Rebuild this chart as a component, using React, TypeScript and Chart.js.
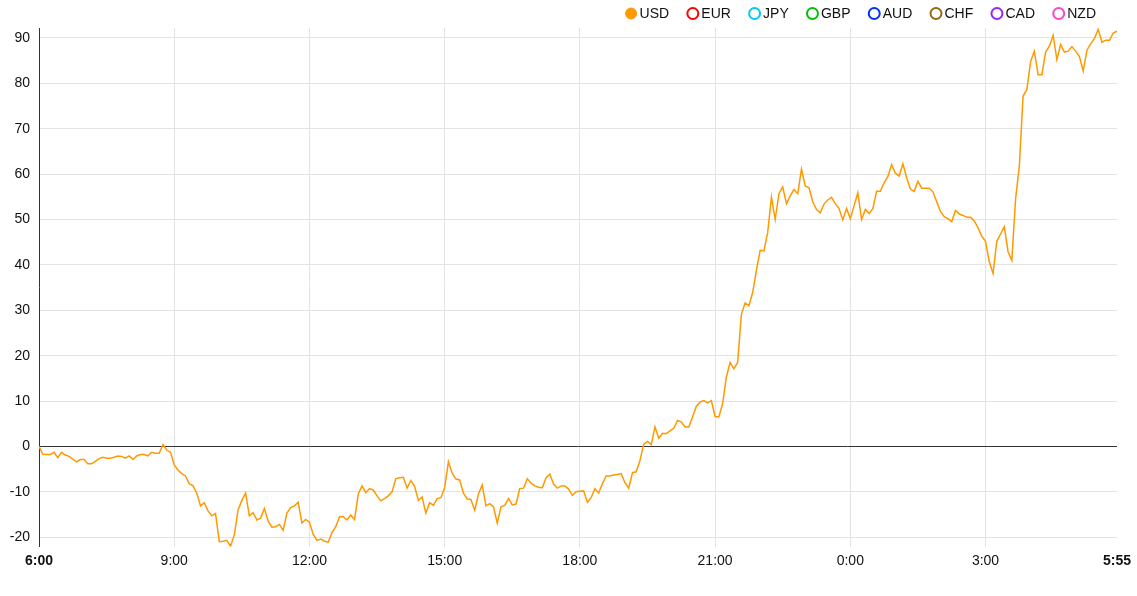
import React, { useEffect, useRef } from "react";
import { Chart, registerables } from "chart.js";

Chart.register(...registerables);

// Currency series names and colours (legend)
const currencies = ["USD", "EUR", "JPY", "GBP", "AUD", "CHF", "CAD", "NZD"];
const currencyColors = ["#ff9900", "#ff0000", "#00c8ff", "#00c000", "#0033ff", "#996611", "#9922ff", "#ff44cc"];

// X ticks (minutes since 6:00) and their labels
const xTickMinutes = [0, 180, 360, 540, 720, 900, 1080, 1260, 1435];
const xTickLabels = ["6:00", "9:00", "12:00", "15:00", "18:00", "21:00", "0:00", "3:00", "5:55"];
const yTickValues = [-20, -10, 0, 10, 20, 30, 40, 50, 60, 70, 80, 90];
const stepMinutes = 5;

// USD values every 5 minutes, 6:00 - 11:55
const usd0600 = [
  0, -1.7, -1.8, -1.8, -1.3, -2.5, -1.3, -1.9, -2.2, -2.8, -3.4, -2.9,
  -2.9, -3.8, -3.8, -3.3, -2.7, -2.4, -2.6, -2.6, -2.4, -2.1, -2.2, -2.6,
  -2.1, -2.9, -2.1, -1.8, -1.8, -2.1, -1.3, -1.5, -1.5, 0.4, -0.8, -1.3,
  -4.1, -5.2, -6.0, -6.5, -8.2, -8.7, -10.3, -13.1, -12.4, -14.2, -15.3, -14.8,
  -21.0, -20.9, -20.7, -22.0, -19.5, -14.0, -11.9, -10.3, -15.3, -14.6, -16.2, -15.8,
  -13.7, -16.4, -17.8, -17.7, -17.2, -18.5, -14.7, -13.5, -13.1, -12.3, -16.9, -16.1,
];
// 12:00 - 17:55
const usd1200 = [
  -16.7, -19.4, -20.7, -20.4, -20.9, -21.1, -19.0, -17.7, -15.5, -15.5, -16.2, -15.1,
  -16.1, -10.5, -8.7, -10.2, -9.3, -9.6, -10.9, -12.0, -11.5, -10.9, -10.0, -7.1,
  -6.9, -6.8, -9.2, -7.5, -8.8, -11.9, -11.2, -14.7, -12.4, -13.0, -11.5, -11.3,
  -9.1, -3.4, -5.9, -7.2, -7.4, -10.3, -11.6, -11.7, -14.1, -10.5, -8.5, -13.1,
  -12.6, -13.3, -16.9, -13.3, -13.0, -11.5, -12.9, -12.7, -9.3, -9.2, -7.1, -8.1,
  -8.7, -9.0, -9.1, -6.9, -6.1, -8.3, -9.2, -8.7, -8.7, -9.4, -10.8, -10.0,
];
// 18:00 - 23:55
const usd1800 = [
  -9.9, -9.8, -12.3, -11.3, -9.3, -10.3, -8.2, -6.5, -6.5, -6.3, -6.2, -6.0,
  -8.0, -9.2, -5.8, -5.6, -3.1, 0.5, 1.1, 0.4, 4.3, 1.8, 2.9, 2.8,
  3.4, 4.0, 5.7, 5.4, 4.3, 4.3, 6.5, 8.8, 9.8, 10.1, 9.6, 10.1,
  6.6, 6.5, 9.4, 15.3, 18.5, 17.1, 18.5, 29.1, 31.6, 31.0, 33.9, 38.8,
  43.2, 43.1, 47.1, 54.9, 50.0, 55.7, 57.2, 53.5, 55.2, 56.6, 55.7, 61.1,
  57.4, 57.0, 53.9, 52.2, 51.5, 53.4, 54.3, 54.9, 53.5, 52.4, 49.9, 52.4,
];
// 0:00 - 5:55
const usd0000 = [
  50.2, 53.0, 55.9, 50.0, 52.2, 51.3, 52.4, 56.2, 56.2, 58.1, 59.5, 62.1,
  60.2, 59.6, 62.3, 59.2, 56.7, 56.2, 58.4, 56.9, 56.9, 56.9, 56.1, 53.9,
  51.8, 50.6, 50.2, 49.5, 52.0, 51.2, 50.9, 50.5, 50.5, 49.7, 48.2, 46.3,
  45.2, 40.7, 38.1, 45.2, 46.8, 48.4, 42.9, 41.0, 54.5, 61.8, 77.2, 78.6,
  84.8, 87.1, 81.9, 81.9, 86.9, 88.2, 90.6, 85.2, 88.6, 86.9, 87.1, 88.1,
  87.1, 85.9, 82.7, 87.3, 88.7, 89.9, 91.9, 89.1, 89.5, 89.5, 91.1, 91.5,
];

const usdValues = [...usd0600, ...usd1200, ...usd1800, ...usd0000];

const FONT = "Arial, 'Liberation Sans', sans-serif";

const legendPlugin = {
  id: "topRightLegend",
  afterDraw(chart: any) {
    const ctx = chart.ctx;
    ctx.save();
    ctx.font = `14px ${FONT}`;
    ctx.textBaseline = "middle";
    ctx.textAlign = "left";
    const r = 5.5;
    const gapCircleText = 2.5;
    const gapItems = 17.7;
    const ds = chart.data.datasets;
    const widths = ds.map((d: any) => 2 * r + 1 + gapCircleText + ctx.measureText(d.label).width);
    const total = widths.reduce((a: number, b: number) => a + b, 0) + gapItems * (ds.length - 1);
    let x = 1096 - total;
    const y = 13.5;
    ds.forEach((d: any, i: number) => {
      const cx = x + r + 0.5;
      ctx.beginPath();
      ctx.arc(cx, y, r, 0, Math.PI * 2);
      if (i === 0) {
        ctx.fillStyle = d.borderColor;
        ctx.fill();
        ctx.lineWidth = 1;
        ctx.strokeStyle = d.borderColor;
        ctx.stroke();
      } else {
        ctx.fillStyle = "#ffffff";
        ctx.fill();
        ctx.lineWidth = 2;
        ctx.strokeStyle = d.borderColor;
        ctx.stroke();
      }
      ctx.fillStyle = "#111";
      ctx.fillText(d.label, x + 2 * r + 1 + gapCircleText, y + 0.5);
      x += widths[i] + gapItems;
    });
    ctx.restore();
  },
};

export default function App() {
  const ref = useRef<HTMLCanvasElement | null>(null);

  useEffect(() => {
    if (!ref.current) return;
    const datasets = currencies.map((name, i) => ({
      label: name,
      data: i === 0 ? usdValues.map((v, k) => ({ x: k * stepMinutes, y: v })) : [],
      borderColor: currencyColors[i],
      backgroundColor: currencyColors[i],
      borderWidth: 1.5,
      pointRadius: 0,
      tension: 0,
      fill: false,
    }));
    const chart = new Chart(ref.current, {
      type: "line",
      data: { datasets },
      plugins: [legendPlugin],
      options: {
        animation: false,
        responsive: true,
        maintainAspectRatio: false,
        layout: { padding: { top: 28, left: 0, right: 19, bottom: 20.5 } },
        plugins: { legend: { display: false }, tooltip: { enabled: false } },
        scales: {
          x: {
            type: "linear",
            min: 0,
            max: 1435,
            afterBuildTicks: (scale: any) => {
              scale.ticks = xTickMinutes.map((v) => ({ value: v }));
            },
            border: { display: false },
            grid: {
              drawTicks: false,
              color: (c: any) => (c.index === xTickMinutes.length - 1 ? "rgba(0,0,0,0)" : "#e3e3e3"),
              lineWidth: 1,
            },
            ticks: {
              padding: 6,
              autoSkip: false,
              maxRotation: 0,
              color: "#111",
              font: (c: any) => ({
                family: FONT,
                size: 14,
                weight: c.index === 0 || c.index === xTickMinutes.length - 1 ? "bold" : "normal",
              }),
              callback: (v: any) => {
                const idx = xTickMinutes.indexOf(Number(v));
                return idx >= 0 ? xTickLabels[idx] : "";
              },
            },
          },
          y: {
            type: "linear",
            min: -22.1,
            max: 92.2,
            afterFit: (scale: any) => {
              scale.width = 39;
            },
            afterBuildTicks: (scale: any) => {
              scale.ticks = yTickValues.map((v) => ({ value: v }));
            },
            border: { display: true, color: "#333", width: 1 },
            grid: {
              drawTicks: false,
              color: (c: any) => (c.tick && c.tick.value === 0 ? "#333" : "#e3e3e3"),
              lineWidth: 1,
            },
            ticks: {
              padding: 9,
              color: "#111",
              font: { family: FONT, size: 14 },
              callback: (v: any) => String(v),
            },
          },
        },
      },
    });
    return () => chart.destroy();
  }, []);

  return (
    <div style={{ position: "fixed", left: 0, top: 0, width: 1137, height: 596, background: "#fff" }}>
      <canvas ref={ref} />
    </div>
  );
}
